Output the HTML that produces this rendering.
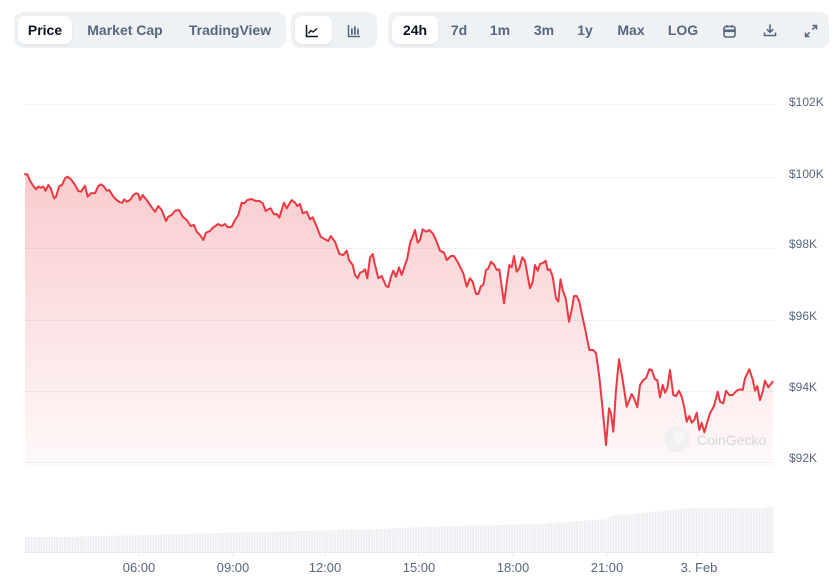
<!DOCTYPE html>
<html>
<head>
<meta charset="utf-8">
<style>
  html,body{margin:0;padding:0;background:#fff;}
  body{width:832px;height:588px;position:relative;overflow:hidden;font-family:"Liberation Sans",Arial,sans-serif;}
  .grp{position:absolute;top:12px;height:36px;background:#eff2f5;border-radius:9px;}
  .btn{position:absolute;top:16px;height:28px;background:#fff;border-radius:7px;box-shadow:0 1px 2px rgba(0,0,0,0.08);}
  .t{position:absolute;top:30px;transform:translate(-50%,-50%);font-size:14px;font-weight:700;color:#58667e;white-space:nowrap;line-height:1;}
  .t.a{color:#0d1421;}
  svg.ic{position:absolute;}
</style>
</head>
<body>
<div class="grp" style="left:14px;width:272px;"></div>
<div class="grp" style="left:291px;width:86px;"></div>
<div class="grp" style="left:388px;width:441px;"></div>

<div class="btn" style="left:18px;width:54px;"></div>
<div class="btn" style="left:295px;width:37px;"></div>
<div class="btn" style="left:392px;width:46px;"></div>

<span class="t a" style="left:45px;">Price</span>
<span class="t" style="left:125px;">Market Cap</span>
<span class="t" style="left:230px;">TradingView</span>

<span class="t a" style="left:415px;">24h</span>
<span class="t" style="left:459px;">7d</span>
<span class="t" style="left:500px;">1m</span>
<span class="t" style="left:544px;">3m</span>
<span class="t" style="left:585px;">1y</span>
<span class="t" style="left:631px;">Max</span>
<span class="t" style="left:683px;">LOG</span>

<!-- line chart icon -->
<svg class="ic" style="left:305px;top:24px;" width="14" height="14" viewBox="0 0 14 14">
  <path d="M1.5 1 V12.5 H13" fill="none" stroke="#0d1421" stroke-width="1.5"/>
  <path d="M3.5 9.5 L6 6.5 L8 8 L12 4.5" fill="none" stroke="#0d1421" stroke-width="1.4" stroke-linejoin="round"/>
</svg>
<!-- candle icon -->
<svg class="ic" style="left:347px;top:24px;" width="14" height="14" viewBox="0 0 14 14">
  <path d="M1.5 1 V12.5 H13" fill="none" stroke="#58667e" stroke-width="1.5"/>
  <rect x="4" y="5" width="1.8" height="5.5" fill="#58667e"/>
  <rect x="7" y="3" width="1.8" height="7.5" fill="#58667e"/>
  <rect x="10" y="5.5" width="1.8" height="5" fill="#58667e"/>
  <path d="M4.9 3.5V11 M7.9 1.5V11 M10.9 4V11" stroke="#58667e" stroke-width="0.8"/>
</svg>
<!-- calendar -->
<svg class="ic" style="left:723px;top:24px;" width="13" height="14" viewBox="0 0 13 14">
  <rect x="1" y="2.5" width="11" height="10.5" rx="2" fill="none" stroke="#58667e" stroke-width="1.6"/>
  <rect x="1" y="5.5" width="11" height="2.6" fill="#58667e"/>
  <path d="M4 1V3.5 M9 1V3.5" stroke="#58667e" stroke-width="1.6"/>
</svg>
<!-- download -->
<svg class="ic" style="left:763px;top:23px;" width="14" height="15" viewBox="0 0 14 15">
  <path d="M7 1.5V9 M3.8 6.2 L7 9.3 L10.2 6.2" fill="none" stroke="#58667e" stroke-width="1.6" stroke-linejoin="round"/>
  <path d="M1.5 9.5 V12.5 H12.5 V9.5" fill="none" stroke="#58667e" stroke-width="1.6"/>
</svg>
<!-- expand -->
<svg class="ic" style="left:804px;top:24px;" width="14" height="14" viewBox="0 0 14 14">
  <path d="M8.5 1.5 H12.5 V5.5 M12.5 1.5 L8.3 5.7 M5.5 12.5 H1.5 V8.5 M1.5 12.5 L5.7 8.3" fill="none" stroke="#58667e" stroke-width="1.5"/>
</svg>

<svg width="832" height="588" viewBox="0 0 832 588" style="position:absolute;left:0;top:0;" xmlns="http://www.w3.org/2000/svg">
  <defs>
    <linearGradient id="fillg" x1="0" y1="174" x2="0" y2="466" gradientUnits="userSpaceOnUse">
      <stop offset="0" stop-color="#ea3943" stop-opacity="0.26"/>
      <stop offset="1" stop-color="#ea3943" stop-opacity="0.03"/>
    </linearGradient>
    <pattern id="vb" x="25" y="0" width="2.6" height="588" patternUnits="userSpaceOnUse">
      <rect x="0" y="0" width="1.9" height="588" fill="#eceef1"/>
    </pattern>
  </defs>

  <!-- gridlines -->
  <g stroke="#eff2f5" stroke-width="1">
    <line x1="25" y1="104.5" x2="774" y2="104.5"/>
    <line x1="25" y1="177.5" x2="774" y2="177.5"/>
    <line x1="25" y1="248.5" x2="774" y2="248.5"/>
    <line x1="25" y1="320.5" x2="774" y2="320.5"/>
    <line x1="25" y1="391.5" x2="774" y2="391.5"/>
    <line x1="25" y1="462.5" x2="774" y2="462.5"/>
  </g>

  <!-- y labels -->
  <g font-family="Liberation Sans, Arial, sans-serif" font-size="12" fill="#58667e">
    <text x="789" y="106">$102K</text>
    <text x="789" y="178">$100K</text>
    <text x="789" y="248">$98K</text>
    <text x="789" y="320">$96K</text>
    <text x="789" y="391">$94K</text>
    <text x="789" y="462">$92K</text>
  </g>

  <!-- fill -->
  <path fill="url(#fillg)" d="M25,174.3 L27.3,174.3 L30,180.7 L33.3,186 L36,189.3 L38.3,186.7 L40.7,187.7 L43.3,186.7 L45.7,190.7 L48.3,185 L50.7,188.3 L54,198.3 L56,196.7 L59.3,186 L62,185 L65,178.3 L67.3,176.7 L70.7,179 L74,183.3 L78.3,191 L81,191.7 L85,185.7 L87.7,196.7 L90.7,193.3 L95,193.3 L98.3,186 L101,184.3 L104,186.7 L106.7,190.7 L109.3,190 L113.3,196.7 L116.7,200 L120,202.3 L122.3,202.7 L124.3,199.3 L126.7,201.7 L130,200 L133.3,195 L136,193.3 L138.3,194 L140,200 L142.7,195 L146.7,200 L151.7,207.3 L155,211.7 L158.3,206 L161.7,210 L166,221 L168.3,216.7 L171.7,215 L175,210.7 L179,210 L182.7,216.7 L186.7,220 L190.7,226 L194,225 L196.7,231.7 L200,235 L203.3,240 L206,232.7 L210,231 L213.3,227.3 L218.3,224 L221.7,226 L225,224 L227.7,227.3 L231.7,226.7 L235,220 L238.3,215 L241.7,202.7 L244.3,203.3 L247.3,200 L251.7,199 L255,200.7 L259.3,201 L262.7,203.3 L265.7,211 L268.3,209.3 L270.7,208.3 L274,214.3 L276.7,214 L279.3,217.7 L284,202.7 L286.7,208.3 L291.7,200 L295,202.7 L297.3,206 L300,204 L302.7,213.3 L306.7,211.7 L310,219.3 L312.7,217.3 L316.7,226.7 L320.7,236.7 L325,239.3 L328.3,241 L330.7,236 L335,241.7 L339.3,254 L343.3,255 L346.7,250.7 L349,260 L352.7,265 L355,275 L357.7,278.3 L360,272.7 L362.7,271.7 L365,269.3 L367.3,278.3 L370,257.7 L372.7,254 L375,265 L378.3,278.3 L381.7,276 L386,286 L388.3,287.3 L391,276.7 L393.3,270.7 L396,276.7 L399,267.3 L401.7,275 L405,265 L407.3,258.3 L410,243.3 L413.3,235 L415,230 L417.7,242.7 L420,240 L422.7,229.3 L426,231.7 L429.3,230 L432.7,233.3 L436,240 L440,250.7 L444,252.7 L446.7,260 L451,256 L454,256 L458.3,263.3 L463.3,273.3 L466.7,286.7 L470,278.3 L472.7,281.7 L476,294 L478.3,294 L481,286 L483.3,285 L486,270 L488.3,268.3 L491,261.7 L494.3,265 L496.7,270 L499.3,269.3 L504,303.3 L506.7,283.3 L509.3,265 L511.7,267.3 L514,256 L516.7,271.7 L519.3,268.3 L522.3,257.3 L525,261 L527.3,274 L530,288.3 L532.7,281.7 L535,265 L537.7,270.7 L540,264 L543.3,262.7 L545.7,260.7 L547.7,270 L550,269.3 L552.7,276.7 L556,298.3 L558.3,301.7 L560.5,279.3 L562.7,290 L565.7,298.3 L569,321.7 L571.7,310 L574,296 L576.7,296 L579.3,301.7 L581.7,313.3 L585,328.3 L589.3,350 L593.3,350 L596,353.3 L599.3,376.7 L602.7,410 L606,445 L609,408.3 L611,413.3 L613.3,431.7 L616,390 L619,359.3 L622.7,380 L626.7,406.7 L631.7,394 L634,398.3 L637.3,407.3 L640,385 L643.3,380 L646,378.3 L649.3,369.3 L651.7,370 L655,379.3 L657.3,380 L660,397.3 L662.7,385 L665,392.7 L667.3,388.3 L670,370 L673.3,395 L676,396 L679,390.7 L681.7,396.7 L684,406 L686.7,421.7 L689.3,416 L691.7,422.7 L694.3,420 L696.7,412.7 L699.3,430 L701.7,422.7 L704.3,432.3 L707.3,421.7 L710,413.3 L714,406 L717.7,391.7 L720,401.7 L723.3,403.3 L726,390.7 L729.3,395 L732.7,395 L736.7,390.7 L740,389.3 L742.7,390 L745,378.3 L749.3,369.3 L752.7,379.3 L755,390.7 L757.3,386 L760,400 L762.7,391.7 L765,380.7 L768.3,387.3 L772.7,381.7 L772.7,466 L25,466 Z"/>

  <!-- watermark -->
  <circle cx="677" cy="439.5" r="12.5" fill="#eceef0" opacity="0.85"/>
  <circle cx="679" cy="437" r="6" fill="#f6f7f8" opacity="0.9"/>
  <text x="697" y="445" font-family="Liberation Sans, Arial, sans-serif" font-size="14" fill="#d3d6db">CoinGecko</text>

  <!-- price line -->
  <path fill="none" stroke="#ea3943" stroke-width="2" stroke-linejoin="round" stroke-linecap="round" d="M25,174.3 L27.3,174.3 L30,180.7 L33.3,186 L36,189.3 L38.3,186.7 L40.7,187.7 L43.3,186.7 L45.7,190.7 L48.3,185 L50.7,188.3 L54,198.3 L56,196.7 L59.3,186 L62,185 L65,178.3 L67.3,176.7 L70.7,179 L74,183.3 L78.3,191 L81,191.7 L85,185.7 L87.7,196.7 L90.7,193.3 L95,193.3 L98.3,186 L101,184.3 L104,186.7 L106.7,190.7 L109.3,190 L113.3,196.7 L116.7,200 L120,202.3 L122.3,202.7 L124.3,199.3 L126.7,201.7 L130,200 L133.3,195 L136,193.3 L138.3,194 L140,200 L142.7,195 L146.7,200 L151.7,207.3 L155,211.7 L158.3,206 L161.7,210 L166,221 L168.3,216.7 L171.7,215 L175,210.7 L179,210 L182.7,216.7 L186.7,220 L190.7,226 L194,225 L196.7,231.7 L200,235 L203.3,240 L206,232.7 L210,231 L213.3,227.3 L218.3,224 L221.7,226 L225,224 L227.7,227.3 L231.7,226.7 L235,220 L238.3,215 L241.7,202.7 L244.3,203.3 L247.3,200 L251.7,199 L255,200.7 L259.3,201 L262.7,203.3 L265.7,211 L268.3,209.3 L270.7,208.3 L274,214.3 L276.7,214 L279.3,217.7 L284,202.7 L286.7,208.3 L291.7,200 L295,202.7 L297.3,206 L300,204 L302.7,213.3 L306.7,211.7 L310,219.3 L312.7,217.3 L316.7,226.7 L320.7,236.7 L325,239.3 L328.3,241 L330.7,236 L335,241.7 L339.3,254 L343.3,255 L346.7,250.7 L349,260 L352.7,265 L355,275 L357.7,278.3 L360,272.7 L362.7,271.7 L365,269.3 L367.3,278.3 L370,257.7 L372.7,254 L375,265 L378.3,278.3 L381.7,276 L386,286 L388.3,287.3 L391,276.7 L393.3,270.7 L396,276.7 L399,267.3 L401.7,275 L405,265 L407.3,258.3 L410,243.3 L413.3,235 L415,230 L417.7,242.7 L420,240 L422.7,229.3 L426,231.7 L429.3,230 L432.7,233.3 L436,240 L440,250.7 L444,252.7 L446.7,260 L451,256 L454,256 L458.3,263.3 L463.3,273.3 L466.7,286.7 L470,278.3 L472.7,281.7 L476,294 L478.3,294 L481,286 L483.3,285 L486,270 L488.3,268.3 L491,261.7 L494.3,265 L496.7,270 L499.3,269.3 L504,303.3 L506.7,283.3 L509.3,265 L511.7,267.3 L514,256 L516.7,271.7 L519.3,268.3 L522.3,257.3 L525,261 L527.3,274 L530,288.3 L532.7,281.7 L535,265 L537.7,270.7 L540,264 L543.3,262.7 L545.7,260.7 L547.7,270 L550,269.3 L552.7,276.7 L556,298.3 L558.3,301.7 L560.5,279.3 L562.7,290 L565.7,298.3 L569,321.7 L571.7,310 L574,296 L576.7,296 L579.3,301.7 L581.7,313.3 L585,328.3 L589.3,350 L593.3,350 L596,353.3 L599.3,376.7 L602.7,410 L606,445 L609,408.3 L611,413.3 L613.3,431.7 L616,390 L619,359.3 L622.7,380 L626.7,406.7 L631.7,394 L634,398.3 L637.3,407.3 L640,385 L643.3,380 L646,378.3 L649.3,369.3 L651.7,370 L655,379.3 L657.3,380 L660,397.3 L662.7,385 L665,392.7 L667.3,388.3 L670,370 L673.3,395 L676,396 L679,390.7 L681.7,396.7 L684,406 L686.7,421.7 L689.3,416 L691.7,422.7 L694.3,420 L696.7,412.7 L699.3,430 L701.7,422.7 L704.3,432.3 L707.3,421.7 L710,413.3 L714,406 L717.7,391.7 L720,401.7 L723.3,403.3 L726,390.7 L729.3,395 L732.7,395 L736.7,390.7 L740,389.3 L742.7,390 L745,378.3 L749.3,369.3 L752.7,379.3 L755,390.7 L757.3,386 L760,400 L762.7,391.7 L765,380.7 L768.3,387.3 L772.7,381.7"/>

  <!-- volume bars -->
  <polygon fill="url(#vb)" points="25,537 60,537 100,536 140,535 180,534 220,533 260,532 300,531 340,530 380,529 420,527 460,526 500,525 540,524 580,521 605,519 612,516 640,513 660,511 690,508 720,508 745,508 760,508 773,507 773,552 25,552"/>
  <line x1="25" y1="552.5" x2="774" y2="552.5" stroke="#e6e8eb" stroke-width="1"/>

  <!-- x ticks -->
  <g stroke="#e6e8eb" stroke-width="1">
    <line x1="139" y1="552" x2="139" y2="557"/>
    <line x1="233" y1="552" x2="233" y2="557"/>
    <line x1="325" y1="552" x2="325" y2="557"/>
    <line x1="419" y1="552" x2="419" y2="557"/>
    <line x1="513" y1="552" x2="513" y2="557"/>
    <line x1="607" y1="552" x2="607" y2="557"/>
    <line x1="697" y1="552" x2="697" y2="557"/>
  </g>
  <g font-family="Liberation Sans, Arial, sans-serif" font-size="13" fill="#58667e" text-anchor="middle">
    <text x="139" y="572">06:00</text>
    <text x="233" y="572">09:00</text>
    <text x="325" y="572">12:00</text>
    <text x="419" y="572">15:00</text>
    <text x="513" y="572">18:00</text>
    <text x="607" y="572">21:00</text>
    <text x="699" y="572">3. Feb</text>
  </g>
</svg>
</body>
</html>
